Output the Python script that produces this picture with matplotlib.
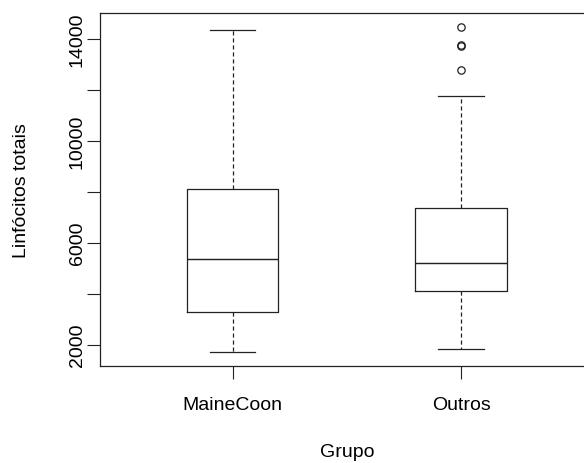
import matplotlib
matplotlib.use("Agg")
import matplotlib.pyplot as plt

plt.rcParams['font.family'] = ['Liberation Sans', 'DejaVu Sans']

# grupos e estatisticas dos boxplots (linfocitos totais)
grupos = ['MaineCoon', 'Outros']
whislo = [1720, 1840]
q1 = [3280, 4110]
med = [5360, 5200]
q3 = [8110, 7370]
whishi = [14350, 11740]
outliers = [[], [14460, 13750, 13700, 12770]]

stats = []
for i in range(len(grupos)):
    stats.append(dict(label=grupos[i], whislo=whislo[i], q1=q1[i], med=med[i],
                      q3=q3[i], whishi=whishi[i], fliers=outliers[i]))

fig = plt.figure(figsize=(5.84, 4.64), dpi=100)
ax = fig.add_axes([0.1712, 0.2097, 0.8455, 0.7601])

lw = 0.9
cor = '#222222'
ax.bxp(stats, positions=[1, 2], widths=0.4, showfliers=True,
       boxprops=dict(color=cor, linewidth=lw),
       medianprops=dict(color=cor, linewidth=lw * 1.15),
       whiskerprops=dict(color=cor, linewidth=lw, linestyle=(0, (3.3, 2.3))),
       capprops=dict(color=cor, linewidth=lw),
       flierprops=dict(marker='o', markersize=5.3, markerfacecolor='none',
                       markeredgecolor=cor, markeredgewidth=0.9))

ax.set_xlim(0.42, 2.58)
ax.set_ylim(1176, 15008)

ax.set_yticks([2000, 4000, 6000, 8000, 10000, 12000, 14000])
ax.set_yticklabels(['2000', '', '6000', '', '10000', '', '14000'],
                   rotation=90, va='center')
ax.set_xticks([1, 2])
ax.set_xticklabels(grupos)
ax.tick_params(axis='both', length=9.1, width=0.8, labelsize=14,
               direction='out', color=cor)
ax.tick_params(axis='y', pad=1)
ax.tick_params(axis='x', pad=13)

for s in ax.spines.values():
    s.set_linewidth(0.9)
    s.set_color(cor)

ax.set_xlabel('Grupo', fontsize=14)
ax.xaxis.set_label_coords(0.5, -0.2438)
ax.xaxis.label.set_va('center')
ax.set_ylabel('Linfócitos totais', fontsize=14)
ax.yaxis.set_label_coords(-0.158, 0.5)
ax.yaxis.label.set_va('center')

fig.savefig('out.png', dpi=100)
